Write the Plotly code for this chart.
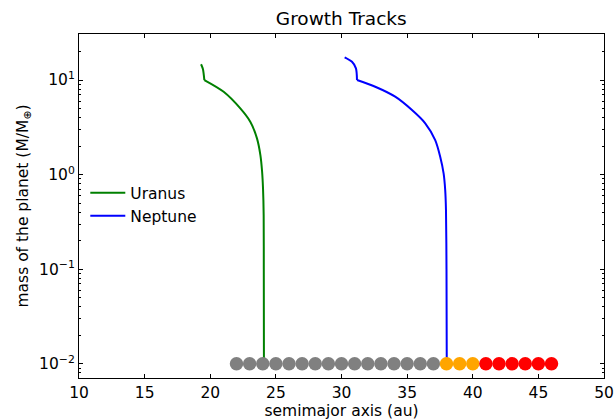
import numpy as np
import plotly.graph_objects as go

# Growth tracks: semimajor axis (au) vs planet mass (Earth masses),
# each split at the kink near 10 Earth masses
uranus_a = [24.09, 24.08, 24.07, 24.02, 23.95, 23.82, 23.56, 23.05, 22.29, 21.02, 19.55]
uranus_m = [0.01, 0.1, 0.375, 0.72, 1.08, 1.61, 2.42, 3.63, 5.02, 7.52, 10.0]
uranus_top_a = [19.55, 19.44, 19.30]
uranus_top_m = [10.0, 13.1, 14.7]

neptune_a = [38.02, 38.0, 37.96, 37.90, 37.78, 37.52, 37.14, 36.38, 35.37, 34.09, 32.57, 31.18]
neptune_m = [0.01, 0.1, 0.42, 0.69, 1.03, 1.55, 2.32, 3.49, 4.82, 6.67, 8.5, 10.0]
neptune_top_a = [31.18, 31.10, 30.80, 30.24]
neptune_top_m = [10.0, 13.3, 15.6, 17.4]

# Embryo positions along the disk, all at the initial mass
embryo_mass = 0.01
inner_a = [22, 23, 24, 25, 26, 27, 28, 29, 30, 31, 32, 33, 34, 35, 36, 37]
middle_a = [38, 39, 40]
outer_a = [41, 42, 43, 44, 45, 46]

x_ticks = [10, 15, 20, 25, 30, 35, 40, 45, 50]
y_ticks = [0.01, 0.1, 1, 10]
y_ticktext = ["10<sup>\u22122</sup>", "10<sup>\u22121</sup>", "10<sup>0</sup>", "10<sup>1</sup>"]

FONT = "DejaVu Sans"
FS = 15.5

fig = go.Figure()
for name, col, (xa, ya), (xb, yb) in [
    ("Uranus", "#008000", (uranus_a, uranus_m), (uranus_top_a, uranus_top_m)),
    ("Neptune", "#0000FF", (neptune_a, neptune_m), (neptune_top_a, neptune_top_m)),
]:
    fig.add_trace(go.Scatter(x=xa, y=ya, mode="lines", name=name, legendgroup=name,
                             line=dict(color=col, width=2, shape="spline", smoothing=0.8)))
    fig.add_trace(go.Scatter(x=xb, y=yb, mode="lines", name=name, legendgroup=name,
                             showlegend=False,
                             line=dict(color=col, width=2, shape="spline", smoothing=0.8)))
for xs, col in [(inner_a, "#808080"), (middle_a, "#FFA500"), (outer_a, "#FF0000")]:
    fig.add_trace(go.Scatter(x=xs, y=[embryo_mass] * len(xs), mode="markers",
                             showlegend=False,
                             marker=dict(color=col, size=13.5, line=dict(width=0))))

fig.update_layout(
    width=616, height=420,
    margin=dict(l=79, r=12, t=34, b=42),
    paper_bgcolor="white", plot_bgcolor="white",
    font=dict(family=FONT, size=FS, color="black"),
    title=dict(text="Growth Tracks", x=0.554, xanchor="center", y=0.955, yanchor="middle",
               font=dict(family=FONT, size=18.5, color="black")),
    legend=dict(x=0.012, y=0.587, xanchor="left", yanchor="top",
                bgcolor="rgba(0,0,0,0)", font=dict(family=FONT, size=FS),
                tracegroupgap=0, itemwidth=35),
    showlegend=True,
)
fig.update_xaxes(
    range=[10, 50], tickvals=x_ticks, ticks="inside", ticklen=4, tickwidth=1,
    tickcolor="black", mirror="allticks", showline=True, linecolor="black", linewidth=1.2,
    showgrid=False, zeroline=False, automargin=False, tickfont=dict(size=FS),
    title=dict(text="semimajor axis (au)", standoff=4, font=dict(size=FS)),
)
fig.update_yaxes(
    type="log", range=[-2.15, 1.487], tickvals=y_ticks, ticktext=y_ticktext,
    ticks="inside", ticklen=4, tickwidth=1, tickcolor="black",
    mirror="allticks", showline=True, linecolor="black", linewidth=1.2,
    showgrid=False, zeroline=False, automargin=False, tickfont=dict(size=FS),
    minor=dict(ticks="inside", ticklen=2, tickcolor="black", tickwidth=1, showgrid=False,
               tickvals=[m * 10.0 ** e for e in range(-3, 2) for m in range(2, 10)]),
    title=dict(text="mass of the planet (M/M<sub>\u2295</sub>)", standoff=6, font=dict(size=FS)),
)

fig.write_html("out.html")
